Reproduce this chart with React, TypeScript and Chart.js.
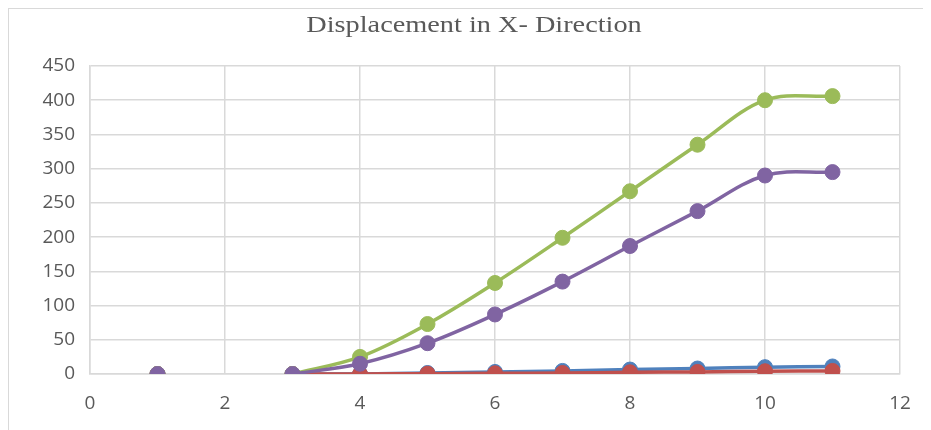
import React, { useEffect, useRef } from "react";
import { Chart, registerables } from "chart.js";

Chart.register(...registerables);

const xValues = [1, 2, 3, 4, 5, 6, 7, 8, 9, 10, 11];
const seriesBlue = [0, null, 0, 0, 1.5, 3, 4.5, 6.5, 8, 10, 11];
const seriesRed = [0, null, 0, 0, 0.5, 1, 1.5, 2.5, 3, 4, 4.5];
const seriesGreen = [0, null, 0, 25, 73, 133, 199, 267, 335, 400, 406];
const seriesPurple = [0, null, 0, 15, 45, 87, 135, 187, 238, 290, 295];
const titleText = "Displacement in X- Direction";

const toPoints = (vals: (number | null)[]) =>
  xValues.map((x, i) => ({ x, y: vals[i] }));

const titlePlugin = {
  id: "stretchTitle",
  afterDraw(chart: any) {
    const ctx = chart.ctx as CanvasRenderingContext2D;
    ctx.save();
    ctx.font = "23px 'Liberation Serif', serif";
    ctx.fillStyle = "#595959";
    ctx.textAlign = "center";
    ctx.textBaseline = "alphabetic";
    const sx = 1.23;
    ctx.translate(465, 23);
    ctx.scale(sx, 1);
    ctx.fillText(titleText, 0, 0);
    ctx.restore();
  },
};

export default function App() {
  const ref = useRef<HTMLCanvasElement | null>(null);

  useEffect(() => {
    if (!ref.current) return;
    const mk = (label: string, vals: (number | null)[], color: string) => ({
      label,
      data: toPoints(vals),
      borderColor: color,
      backgroundColor: color,
      pointBackgroundColor: color,
      pointBorderColor: color,
      borderWidth: 3.5,
      pointRadius: 7.5,
      pointBorderWidth: 1,
      tension: 0.35,
      spanGaps: false,
      fill: false,
    });
    const tickFont = { family: "'Open Sans', sans-serif", size: 19 };
    const chart = new Chart(ref.current, {
      type: "line",
      data: {
        datasets: [
          mk("Series4", seriesPurple, "#8064A2"),
          mk("Series3", seriesGreen, "#9BBB59"),
          mk("Series2", seriesRed, "#C0504D"),
          mk("Series1", seriesBlue, "#4F81BD"),
        ] as any,
      },
      options: {
        animation: false,
        responsive: false,
        maintainAspectRatio: false,
        layout: { padding: { left: 0, right: 39, top: 57, bottom: 0 } },
        plugins: {
          legend: { display: false },
          tooltip: { enabled: false },
          title: { display: false },
        },
        scales: {
          x: {
            type: "linear",
            min: 0,
            max: 12,
            ticks: { stepSize: 2, color: "#595959", font: tickFont, padding: 18 },
            grid: { color: "#d9d9d9", lineWidth: 1.5, drawTicks: false },
            border: { color: "#d9d9d9", width: 1.5 },
            afterFit: (s: any) => {
              s.height = 56;
            },
          },
          y: {
            type: "linear",
            min: 0,
            max: 450,
            ticks: { stepSize: 50, color: "#595959", font: tickFont, padding: 15 },
            grid: { color: "#d9d9d9", lineWidth: 1.5, drawTicks: false },
            border: { color: "#d9d9d9", width: 1.5 },
            afterFit: (s: any) => {
              s.width = 81;
            },
          },
        },
      } as any,
      plugins: [titlePlugin],
    });
    return () => chart.destroy();
  }, []);

  return (
    <div style={{ width: 923, height: 422, overflow: "hidden" }}>
      <div
        style={{
          width: 931,
          height: 431,
          borderTop: "1px solid #d9d9d9",
          borderLeft: "1px solid #d9d9d9",
          boxSizing: "border-box",
          background: "#fff",
        }}
      >
        <canvas ref={ref} width={930} height={421} style={{ display: "block", width: 930, height: 421 }} />
      </div>
    </div>
  );
}
